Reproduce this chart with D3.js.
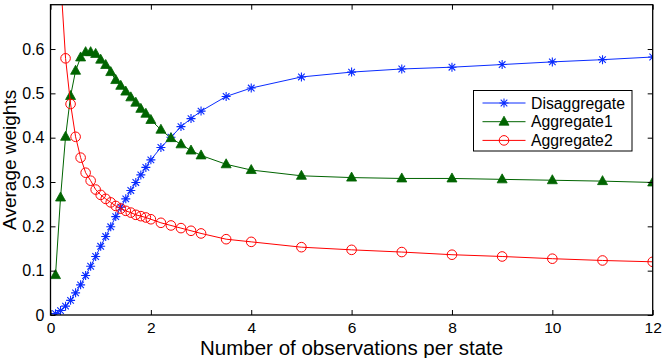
<!DOCTYPE html>
<html>
<head>
<meta charset="utf-8">
<script src="https://cdn.jsdelivr.net/npm/d3@7"></script>
<style>
  body { margin: 0; background: #fff; }
  svg text { font-family: "Liberation Sans", Arial, sans-serif; fill: #000; }
</style>
</head>
<body>
<svg id="chart" width="662" height="358"></svg>
<script>
// x positions (observations per state)
const obs = [0.1, 0.2, 0.3, 0.4, 0.5, 0.6, 0.7, 0.8, 0.9, 1.0,
  1.1, 1.2, 1.3, 1.4, 1.5, 1.6, 1.7, 1.8, 1.9, 2.0,
  2.2, 2.4, 2.6, 2.8, 3.0, 3.5, 4, 5, 6, 7, 8, 9, 10, 11, 12];

const disaggregate = [0.003, 0.010, 0.020, 0.033, 0.050, 0.068, 0.089, 0.110, 0.132, 0.155,
  0.177, 0.199, 0.222, 0.243, 0.262, 0.281, 0.299, 0.316, 0.333, 0.350,
  0.378, 0.401, 0.425, 0.443, 0.460, 0.493, 0.512, 0.537, 0.548, 0.555, 0.559, 0.565, 0.571, 0.576, 0.582];

const aggregate1 = [0.090, 0.265, 0.402, 0.494, 0.551, 0.581, 0.593, 0.593, 0.589, 0.576,
  0.564, 0.548, 0.530, 0.517, 0.504, 0.491, 0.479, 0.465, 0.454, 0.440,
  0.418, 0.399, 0.385, 0.371, 0.360, 0.340, 0.327, 0.314, 0.310, 0.308, 0.308, 0.306, 0.304, 0.302, 0.299];

// first point is above the visible range
const aggregate2 = [null, 0.76, 0.579, 0.476, 0.402, 0.355, 0.321, 0.303, 0.283, 0.271,
  0.262, 0.254, 0.246, 0.240, 0.235, 0.231, 0.226, 0.223, 0.220, 0.216,
  0.208, 0.202, 0.196, 0.190, 0.184, 0.171, 0.165, 0.153, 0.147, 0.142, 0.136, 0.132, 0.127, 0.123, 0.120];

const xTicks = [0, 2, 4, 6, 8, 10, 12];
const yTicks = [0, 0.1, 0.2, 0.3, 0.4, 0.5, 0.6];

const series = [
  { name: "Disaggregate", values: disaggregate, color: "#0a2cff", marker: "star" },
  { name: "Aggregate1", values: aggregate1, color: "#006400", marker: "triangle" },
  { name: "Aggregate2", values: aggregate2, color: "#ff0000", marker: "circle" }
];

const svg = d3.select("#chart");
const margin = { top: 4.7, right: 9.3, bottom: 43, left: 50.5 };
const width = 662, height = 358;

const x = d3.scaleLinear().domain([0, 12]).range([margin.left, width - margin.right]);
const y = d3.scaleLinear().domain([0, 0.7]).range([height - margin.bottom, margin.top]);

const x0 = x.range()[0], x1 = x.range()[1];
const y0 = y.range()[0], y1 = y.range()[1];

svg.append("clipPath").attr("id", "clip")
  .append("rect")
  .attr("x", x0).attr("y", y1)
  .attr("width", x1 - x0)
  .attr("height", y0 - y1);

// markers
function drawMarker(g, type, color) {
  if (type === "star") {
    const r = 4.5, d = 3.3;
    g.append("path")
      .attr("d", `M${-r},0H${r}M0,${-r}V${r}M${-d},${-d}L${d},${d}M${-d},${d}L${d},${-d}`)
      .attr("stroke", color).attr("stroke-width", 1.1).attr("fill", "none");
  } else if (type === "triangle") {
    g.append("path")
      .attr("d", "M0,-5.5L5,3.5L-5,3.5Z")
      .attr("fill", color).attr("stroke", color).attr("stroke-width", 0.8);
  } else {
    g.append("circle").attr("r", 4.8)
      .attr("fill", "none").attr("stroke", color).attr("stroke-width", 1);
  }
}

const plot = svg.append("g").attr("clip-path", "url(#clip)");

const line = d3.line()
  .defined(d => d[1] != null)
  .x(d => x(d[0]))
  .y(d => y(d[1]));

series.forEach(s => {
  const pts = obs.map((o, i) => [o, s.values[i]]);
  plot.append("path")
    .datum(pts)
    .attr("fill", "none")
    .attr("stroke", s.color)
    .attr("stroke-width", 1)
    .attr("d", line);
  pts.filter(p => p[1] != null).forEach(p => {
    const g = plot.append("g").attr("transform", `translate(${x(p[0])},${y(p[1])})`);
    drawMarker(g, s.marker, s.color);
  });
});

// axes box and ticks
const tickLen = 5;

svg.append("g")
  .attr("transform", `translate(0,${y0})`)
  .call(d3.axisBottom(x).tickValues(xTicks).tickSize(-tickLen).tickPadding(7).tickFormat(d3.format("d")))
  .call(g => g.select(".domain").remove())
  .call(g => g.selectAll("text").attr("font-size", 15.5).attr("dy", "0.71em"));

svg.append("g")
  .attr("transform", `translate(0,${y1})`)
  .call(d3.axisTop(x).tickValues(xTicks).tickSize(-tickLen).tickFormat(""))
  .call(g => g.select(".domain").remove());

svg.append("g")
  .attr("transform", `translate(${x0},0)`)
  .call(d3.axisLeft(y).tickValues(yTicks).tickSize(-tickLen).tickPadding(6)
    .tickFormat(d => d === 0 ? "0" : d3.format(".1f")(d)))
  .call(g => g.select(".domain").remove())
  .call(g => g.selectAll("text").attr("font-size", 16));

svg.append("g")
  .attr("transform", `translate(${x1},0)`)
  .call(d3.axisRight(y).tickValues(yTicks).tickSize(-tickLen).tickFormat(""))
  .call(g => g.select(".domain").remove());

svg.selectAll(".tick line").attr("stroke", "#000");

svg.append("rect")
  .attr("x", x0).attr("y", y1)
  .attr("width", x1 - x0).attr("height", y0 - y1)
  .attr("fill", "none").attr("stroke", "#000").attr("stroke-width", 1.3);

// axis labels
svg.append("text")
  .attr("x", (x0 + x1) / 2).attr("y", 354.5)
  .attr("text-anchor", "middle")
  .attr("font-size", 20.5)
  .text("Number of observations per state");

svg.append("text")
  .attr("transform", `translate(16,${(y0 + y1) / 2}) rotate(-90)`)
  .attr("text-anchor", "middle")
  .attr("font-size", 19)
  .text("Average weights");

// legend
const legend = svg.append("g").attr("transform", "translate(473.5,90.5)");
legend.append("rect")
  .attr("width", 158.5).attr("height", 60.5)
  .attr("fill", "#fff").attr("stroke", "#000").attr("stroke-width", 1);

series.forEach((s, i) => {
  const ly = 12.5 + i * 18.7;
  legend.append("line")
    .attr("x1", 9).attr("x2", 52).attr("y1", ly).attr("y2", ly)
    .attr("stroke", s.color).attr("stroke-width", 1);
  drawMarker(legend.append("g").attr("transform", `translate(30.5,${ly})`), s.marker, s.color);
  legend.append("text")
    .attr("x", 57.5).attr("y", ly).attr("dy", "0.36em")
    .attr("font-size", 15.8)
    .text(s.name);
});
</script>
</body>
</html>
